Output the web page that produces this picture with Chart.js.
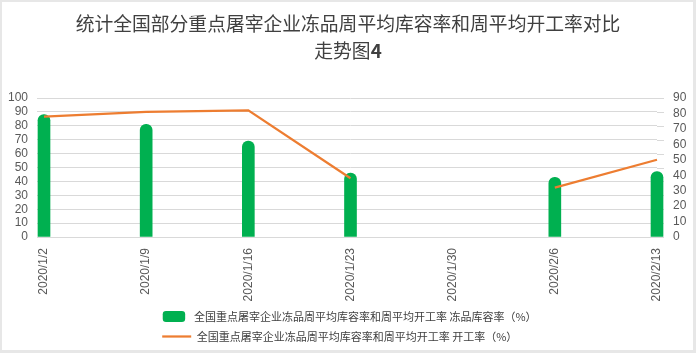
<!DOCTYPE html>
<html>
<head>
<meta charset="utf-8">
<script src="https://cdn.jsdelivr.net/npm/chart.js@4"></script>
<style>
html, body { margin: 0; padding: 0; background: #fff; }
#wrap { position: relative; width: 696px; height: 353px; }
#title {
    position: absolute; left: 0; top: 9px; width: 696px; text-align: center;
    font: 18.8px/27px "Noto Sans CJK SC", sans-serif; color: #404040;
}
#frame {
    position: absolute; left: 0; top: 0; width: 696px; height: 353px; box-sizing: border-box;
    border: 2px solid #e7e7e7; border-right-width: 3px; border-bottom-width: 3px; pointer-events: none;
}
</style>
</head>
<body>
<div id="wrap">
    <canvas id="chart" width="696" height="353"></canvas>
    <div id="title">统计全国部分重点屠宰企业冻品周平均库容率和周平均开工率对比<br>走势图<b>4</b></div>
    <div id="frame"></div>
</div>
<script>
// data
const categories = ["2020/1/2", "2020/1/9", "2020/1/16", "2020/1/23", "2020/1/30", "2020/2/6", "2020/2/13"];
const storageRate = [88, 81, 69, 46, null, 43, 47];     // 冻品库容率 (left axis)
const operatingRate = [78, 81, 82, 38, null, 32, 50];  // 开工率 (right axis)
const seriesNames = [
    "全国重点屠宰企业冻品周平均库容率和周平均开工率 冻品库容率（%）",
    "全国重点屠宰企业冻品周平均库容率和周平均开工率 开工率（%）"
];

const gridColor = "#d9d9d9";
const tickColor = "#595959";
const tickFont = { family: "Liberation Sans", size: 12 };

// left-axis grid lines poke a little past the right edge of the plot
const gridExtend = {
    id: "gridExtend",
    beforeDatasetsDraw(chart) {
        const { ctx, chartArea, scales } = chart;
        ctx.save();
        ctx.strokeStyle = gridColor;
        ctx.lineWidth = 1;
        scales.y.ticks.forEach((t, i) => {
            const y = Math.round(scales.y.getPixelForTick(i)) + 0.5;
            ctx.beginPath();
            ctx.moveTo(chartArea.right, y);
            ctx.lineTo(chartArea.right + 7, y);
            ctx.stroke();
        });
        ctx.restore();
    }
};

const ctx = document.getElementById("chart");
new Chart(ctx, {
    type: "bar",
    data: {
        labels: categories,
        datasets: [
            {
                label: seriesNames[0],
                data: storageRate,
                backgroundColor: "#00b050",
                borderWidth: 0,
                barThickness: 12,
                borderRadius: { topLeft: 6, topRight: 6, bottomLeft: 0, bottomRight: 0 },
                borderSkipped: false,
                yAxisID: "y",
                order: 1,
                clip: false
            },
            {
                type: "line",
                label: seriesNames[1],
                data: operatingRate,
                borderColor: "#ed7d31",
                backgroundColor: "#ed7d31",
                borderWidth: 2.25,
                pointRadius: 0,
                spanGaps: false,
                tension: 0,
                yAxisID: "y1",
                order: 0,
                clip: false
            }
        ]
    },
    options: {
        responsive: false,
        animation: false,
        devicePixelRatio: 1,
        layout: { padding: { left: 0, right: 0, top: 98, bottom: 1 } },
        scales: {
            x: {
                offset: false,
                grid: { display: false },
                border: { display: true, color: gridColor },
                ticks: {
                    minRotation: 90, maxRotation: 90, autoSkip: false, padding: 3,
                    color: tickColor, font: tickFont
                },
                afterFit(scale) { scale.height = 65; }
            },
            y: {
                position: "left",
                min: 0, max: 100,
                grid: { color: gridColor, drawTicks: true, tickLength: 7, tickColor: gridColor },
                border: { display: false },
                ticks: { stepSize: 10, autoSkip: false, padding: 9, color: tickColor, font: tickFont },
                afterFit(scale) { scale.width = 44; }
            },
            y1: {
                position: "right",
                min: 0, max: 90,
                grid: { drawOnChartArea: false, drawTicks: false },
                border: { display: false },
                ticks: { stepSize: 10, autoSkip: false, padding: 16, color: tickColor, font: tickFont },
                afterFit(scale) { scale.width = 39; }
            }
        },
        plugins: {
            tooltip: { enabled: false },
            legend: {
                position: "bottom",
                labels: {
                    usePointStyle: true,
                    pointStyleWidth: 29,
                    boxHeight: 9,
                    padding: 9,
                    color: "#404040",
                    font: { family: "Noto Sans CJK SC", size: 11 },
                    sort: (a, b) => a.datasetIndex - b.datasetIndex,
                    generateLabels(chart) {
                        const items = Chart.defaults.plugins.legend.labels.generateLabels(chart);
                        items.forEach(item => {
                            if (item.datasetIndex === 0) {
                                item.pointStyle = "rectRounded";
                            } else {
                                item.pointStyle = "line";
                                // pad so both rows start at the same x once centered
                                item.text = item.text + "\u3000\u3000";
                            }
                        });
                        return items;
                    }
                }
            }
        }
    },
    plugins: [gridExtend]
});
</script>
</body>
</html>
